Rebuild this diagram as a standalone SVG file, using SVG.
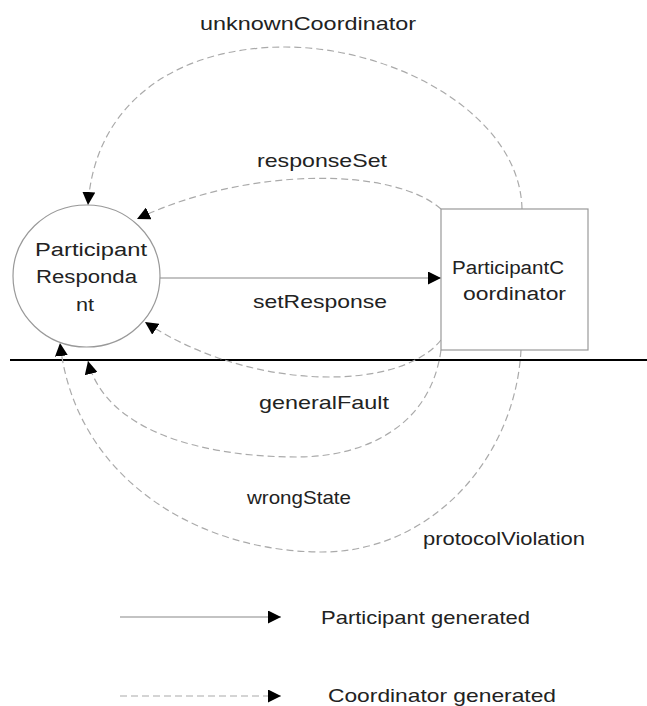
<svg xmlns="http://www.w3.org/2000/svg" width="647" height="706" viewBox="0 0 647 706">
<style>
.node{fill:#fff;stroke:#999;stroke-width:1.2}
.lbl{font-family:"Liberation Sans",Arial,sans-serif;font-size:19px;fill:#222}
.ntxt{font-family:"Liberation Sans",Arial,sans-serif;font-size:18px;fill:#222}
.solid{fill:none;stroke:#888;stroke-width:1.2}
.dash{fill:none;stroke:#aaa;stroke-width:1.2;stroke-dasharray:7 4}
</style>
<defs>
<marker id="ah" viewBox="0 0 13 13" refX="13" refY="6.5" markerWidth="13" markerHeight="13" markerUnits="userSpaceOnUse" orient="auto">
<path d="M0,0 L13,6.5 L0,13 Z" fill="#000" stroke="none"/>
</marker>
</defs>
<rect width="647" height="706" fill="#fff"/>
<g id="divider">
<line x1="10" y1="360" x2="647" y2="360" stroke="#000" stroke-width="2"/>
</g>
<g id="connectors">
<path class="dash" d="M522,209 C520,115 395,47 285,47 C180,47 95,100 88,205" marker-end="url(#ah)"/>
<path class="dash" d="M441,209 C395,168 250,165 137,219" marker-end="url(#ah)"/>
<path class="solid" d="M160,278 L441,278" marker-end="url(#ah)"/>
<path class="dash" d="M441,340 C400,392 250,392 145,322" marker-end="url(#ah)"/>
<path class="dash" d="M441,350 C430,430 360,457 297,457 C200,457 105,430 88,361" marker-end="url(#ah)"/>
<path class="dash" d="M521,350 C515,460 430,552 322,552 C200,552 75,480 60,343" marker-end="url(#ah)"/>
</g>
<g id="participantRespondant">
<ellipse class="node" cx="86.5" cy="276" rx="73.5" ry="71"/>
<text class="ntxt" x="35" y="256" textLength="112" lengthAdjust="spacingAndGlyphs">Participant</text>
<text class="ntxt" x="36" y="283" textLength="101" lengthAdjust="spacingAndGlyphs">Responda</text>
<text class="ntxt" x="76" y="311" textLength="18" lengthAdjust="spacingAndGlyphs">nt</text>
</g>
<g id="participantCoordinator">
<rect class="node" x="441" y="209" width="147" height="141"/>
<text class="ntxt" x="452" y="274" textLength="112" lengthAdjust="spacingAndGlyphs">ParticipantC</text>
<text class="ntxt" x="463" y="300" textLength="103" lengthAdjust="spacingAndGlyphs">oordinator</text>
</g>
<g id="labels">
<text class="lbl" x="200" y="30" textLength="216" lengthAdjust="spacingAndGlyphs">unknownCoordinator</text>
<text class="lbl" x="257" y="167" textLength="130" lengthAdjust="spacingAndGlyphs">responseSet</text>
<text class="lbl" x="253" y="308" textLength="134" lengthAdjust="spacingAndGlyphs">setResponse</text>
<text class="lbl" x="259" y="409" textLength="130" lengthAdjust="spacingAndGlyphs">generalFault</text>
<text class="lbl" x="247" y="504" textLength="104" lengthAdjust="spacingAndGlyphs">wrongState</text>
<text class="lbl" x="423" y="545" textLength="162" lengthAdjust="spacingAndGlyphs">protocolViolation</text>
</g>
<g id="legend">
<path class="solid" d="M120,617 L281,617" marker-end="url(#ah)"/>
<text class="lbl" x="321" y="624" textLength="209" lengthAdjust="spacingAndGlyphs">Participant generated</text>
<path class="dash" d="M120,696 L281,696" marker-end="url(#ah)"/>
<text class="lbl" x="328" y="702" textLength="228" lengthAdjust="spacingAndGlyphs">Coordinator generated</text>
</g>
</svg>
